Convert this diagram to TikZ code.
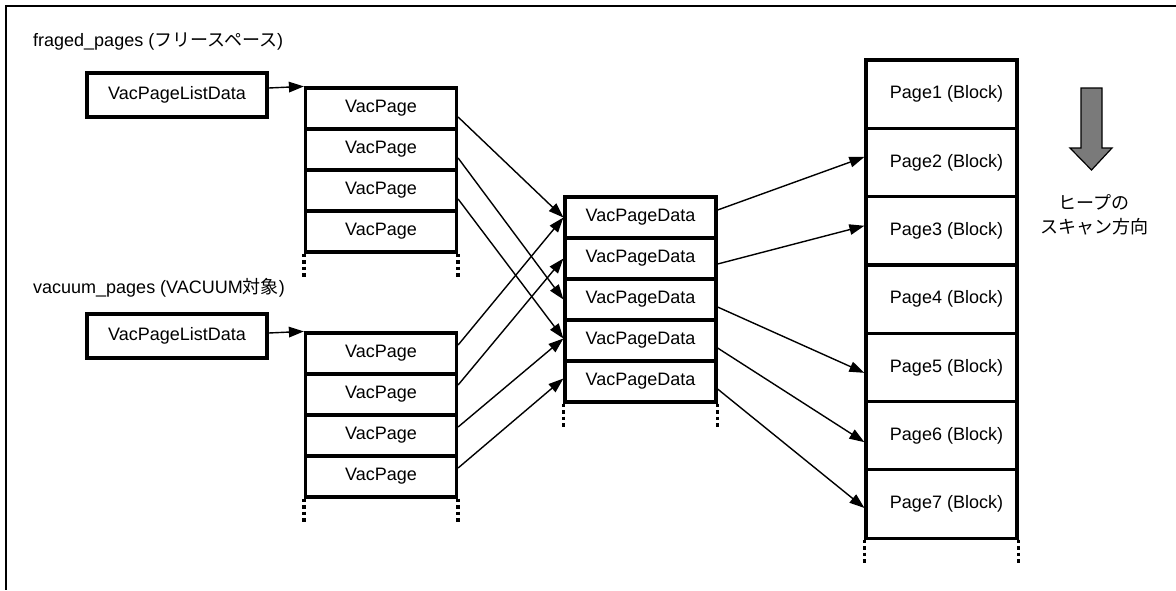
\documentclass[tikz,border=0pt]{standalone}
\usepackage{fontspec}
\setmainfont{Liberation Sans}
\newfontfamily\cjk{Noto Sans CJK JP}
\usetikzlibrary{arrows.meta}
\begin{document}
\begin{tikzpicture}[x=1pt,y=-1pt,
  every node/.style={font=\fontsize{18pt}{22pt}\selectfont},
  cell/.style={draw,line width=3.2pt,inner sep=0pt,minimum width=151pt,minimum height=41pt},
  listbox/.style={draw,line width=3.2pt,inner sep=0pt,minimum width=180pt,minimum height=44pt},
  pagecell/.style={draw,line width=3.2pt,inner sep=0pt,minimum width=151pt,minimum height=68.3pt},
  conn/.style={line width=1.4pt,-{Triangle[length=15pt,width=10.5pt]}},
  dots/.style={line width=3.5pt,dash pattern=on 3.5pt off 3pt},
  lbl/.style={anchor=west,inner sep=0pt}
]
\useasboundingbox (0,0) rectangle (1176,590);
% frame (top and left)
\draw[line width=2pt] (1176,5.7) -- (5.7,5.7) -- (5.7,590);

% labels
\node[lbl] (t1) at (33,42) {fraged\_pages ({\cjk フリースペース})};
\node[lbl] (t2) at (33,288) {vacuum\_pages (VACUUM{\cjk 対象})};

% list data boxes
\node[listbox] (L1) at (177,95) {VacPageListData};
\node[listbox] (L2) at (177,336) {VacPageListData};

% column 1
\foreach \i/\y in {1/108.5,2/149.5,3/190.5,4/231.5}
  \node[cell] (a\i) at (381,\y) {VacPage};
% column 2
\foreach \i/\y in {1/353.5,2/394.5,3/435.5,4/476.5}
  \node[cell] (b\i) at (381,\y) {VacPage};
% VacPageData column
\foreach \i/\y in {1/217.5,2/258.5,3/299.5,4/340.5,5/381.5}
  \node[cell] (d\i) at (640.5,\y) {VacPageData};
% Pages column
\foreach \i in {1,...,7}
  \node[pagecell] (p\i) at (941.5,{60+68.3*(\i-0.5)}) {\hspace{10pt}Page\i{} (Block)};

% dotted continuations
\coordinate (a4sw) at ([yshift=-24pt]a4.south west);
\coordinate (a4se) at ([yshift=-24pt]a4.south east);
\coordinate (b4sw) at ([yshift=-24pt]b4.south west);
\coordinate (b4se) at ([yshift=-24pt]b4.south east);
\coordinate (d5sw) at ([yshift=-24pt]d5.south west);
\coordinate (d5se) at ([yshift=-24pt]d5.south east);
\coordinate (p7sw) at ([yshift=-24pt]p7.south west);
\coordinate (p7se) at ([yshift=-24pt]p7.south east);
\draw[dots] (a4.south west) -- (a4sw);
\draw[dots] (a4.south east) -- (a4se);
\draw[dots] (b4.south west) -- (b4sw);
\draw[dots] (b4.south east) -- (b4se);
\draw[dots] (d5.south west) -- (d5sw);
\draw[dots] (d5.south east) -- (d5se);
\draw[dots] (p7.south west) -- (p7sw);
\draw[dots] (p7.south east) -- (p7se);

% list -> column
\draw[conn] ([yshift=7pt]L1.east) -- (a1.north west);
\draw[conn] ([yshift=3pt]L2.east) -- (b1.north west);

% VacPage -> VacPageData
\draw[conn] ([yshift=-8.5pt]a1.east) -- (d1.west);
\draw[conn] ([yshift=-8.5pt]a2.east) -- (d3.west);
\draw[conn] ([yshift=-8.5pt]a3.east) -- ([yshift=2pt]d4.west);
\draw[conn] ([yshift=8.5pt]b1.east) -- (d1.west);
\draw[conn] ([yshift=9.5pt]b2.east) -- (d2.west);
\draw[conn] ([yshift=8.5pt]b3.east) -- ([yshift=2pt]d4.west);
\draw[conn] ([yshift=8.5pt]b4.east) -- ([yshift=3pt]d5.west);

% VacPageData -> Pages
\draw[conn] ([yshift=7.5pt]d1.east) -- ([yshift=5.5pt]p2.west);
\draw[conn] ([yshift=-5.5pt]d2.east) -- ([yshift=5pt]p3.west);
\draw[conn] ([yshift=-7.5pt]d3.east) -- ([yshift=-5.5pt]p5.west);
\draw[conn] ([yshift=-7.5pt]d4.east) -- ([yshift=-6.5pt]p6.west);
\draw[conn] ([yshift=-7.5pt]d5.east) -- ([yshift=-4pt]p7.west);

% scan direction arrow
\draw[line width=1.2pt,fill=black!52] (1081,88) -- (1102,88) -- (1102,148) -- (1112,148)
  -- (1091.5,170) -- (1070,148) -- (1081,148) -- cycle;
\node[align=center,inner sep=0pt,font=\cjk\fontsize{18pt}{24pt}\selectfont] (scan) at (1094,215) {ヒープの\\スキャン方向};
\end{tikzpicture}
\end{document}
